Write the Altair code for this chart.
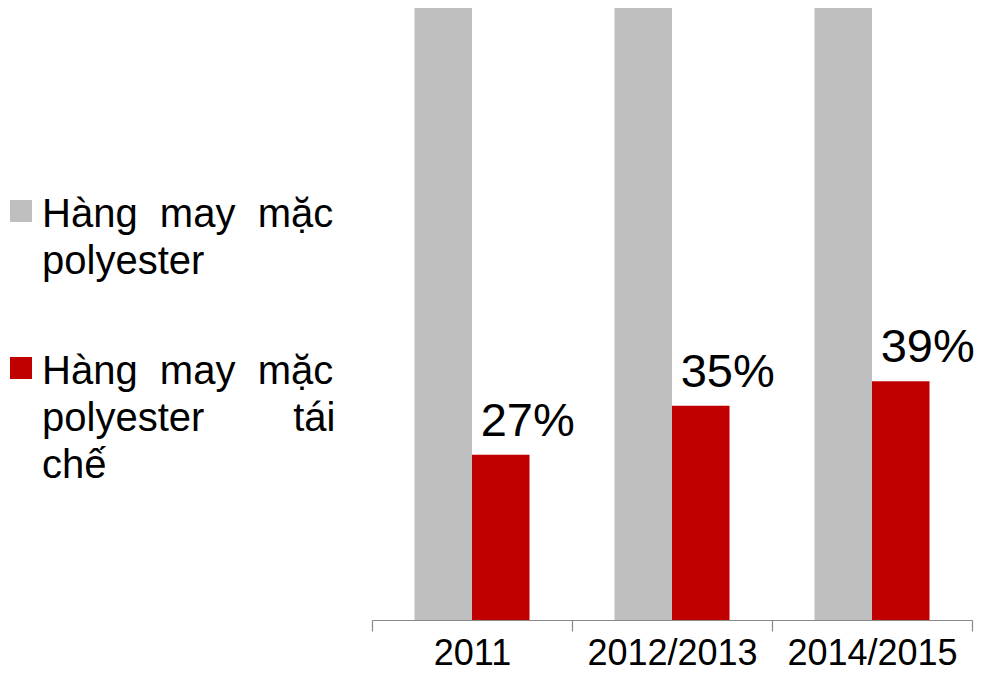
import json
import altair as alt
import pandas as pd

FONT = "Liberation Sans, Arial, sans-serif"

categories = ["2011", "2012/2013", "2014/2015"]
series = ["Hàng may mặc polyester", "Hàng may mặc polyester tái chế"]
polyester = [100, 100, 100]
recycled = [27, 35, 39]
colors = ["#BFBFBF", "#C00000"]

NB = "\u00a0"
legend_lines = {
    series[0]: ["Hàng" + NB * 2 + "may" + NB * 2 + "mặc", "polyester"],
    series[1]: ["Hàng" + NB * 2 + "may" + NB * 2 + "mặc", "polyester" + NB * 8 + "tái", "chế"],
}

rows = []
for i, c in enumerate(categories):
    rows.append({"cat": c, "series": series[0], "value": polyester[i]})
    rows.append({"cat": c, "series": series[1], "value": recycled[i]})
df = pd.DataFrame(rows)

label_expr = "datum.label == {} ? {} : {}".format(
    json.dumps(series[0], ensure_ascii=False),
    json.dumps(legend_lines[series[0]], ensure_ascii=False),
    json.dumps(legend_lines[series[1]], ensure_ascii=False),
)

base = alt.Chart(df).encode(
    x=alt.X(
        "cat:N",
        sort=categories,
        scale=alt.Scale(paddingInner=0, paddingOuter=0),
        axis=alt.Axis(
            title=None,
            labelAngle=0,
            tickBand="extent",
            tickSize=11,
            labelPadding=5,
            labelFontSize=36,
            labelFont=FONT,
            labelColor="black",
            domainColor="#898989",
            tickColor="#898989",
            domainWidth=1.2,
            tickWidth=1.2,
            grid=False,
        ),
    ),
    xOffset=alt.XOffset(
        "series:N", sort=series, scale=alt.Scale(paddingOuter=0.739, paddingInner=0)
    ),
    y=alt.Y("value:Q", scale=alt.Scale(domain=[0, 100]), axis=None),
)

bars = base.mark_bar().encode(
    color=alt.Color(
        "series:N",
        sort=series,
        scale=alt.Scale(domain=series, range=colors),
        legend=alt.Legend(
            title=None,
            orient="none",
            legendX=-371,
            legendY=167,
            padding=0,
            symbolType="M-1,0.455H1V2.455H-1Z",
            symbolSize=484,
            symbolStrokeWidth=0,
            labelFont=FONT,
            labelFontSize=40,
            labelColor="black",
            labelBaseline="top",
            labelOffset=1,
            labelLimit=600,
            rowPadding=50,
            labelExpr=label_expr,
        ),
    )
)

text = (
    base.transform_filter(alt.datum.series == series[1])
    .transform_calculate(label="datum.value + '%'")
    .mark_text(
        font=FONT,
        fontSize=47,
        color="black",
        baseline="alphabetic",
        align="center",
        dx=27,
        dy=-19,
    )
    .encode(text="label:N")
)

chart = (
    alt.layer(bars, text)
    .properties(
        width=600,
        height=612,
        autosize=alt.AutoSizeParams(type="none"),
        padding={"left": 364, "top": 0, "right": 2, "bottom": 53},
    )
    .configure(style={"guide-label": {"lineHeight": 47}})
    .configure_view(stroke=None)
)

chart.save("out.html", embed_options={"renderer": "svg", "actions": False})
